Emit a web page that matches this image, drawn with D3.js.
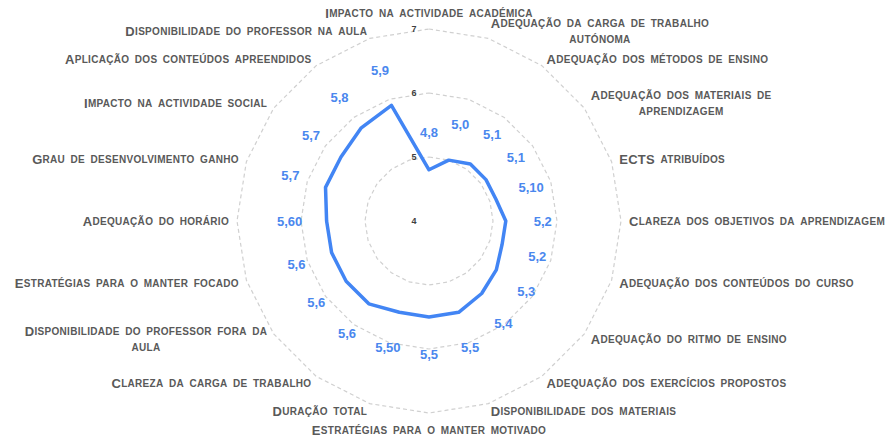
<!DOCTYPE html>
<html>
<head>
<meta charset="utf-8">
<script src="https://cdn.jsdelivr.net/npm/d3@7"></script>
<style>
  body { margin: 0; background: #fff; }
  svg { display: block; font-family: "Liberation Sans", Arial, sans-serif; }
</style>
</head>
<body>
<div id="chart"></div>
<script>
// axis categories, clockwise from the top
const categories = [
  "Impacto na actividade académica",
  "Adequação da carga de trabalho\nautónoma",
  "Adequação dos métodos de ensino",
  "Adequação dos materiais de\naprendizagem",
  "ECTS atribuídos",
  "Clareza dos objetivos da aprendizagem",
  "Adequação dos conteúdos do curso",
  "Adequação do ritmo de ensino",
  "Adequação dos exercícios propostos",
  "Disponibilidade dos materiais",
  "Estratégias para o manter motivado",
  "Duração total",
  "Clareza da carga de trabalho",
  "Disponibilidade do professor fora da\naula",
  "Estratégias para o manter focado",
  "Adequação do horário",
  "Grau de desenvolvimento ganho",
  "Impacto na actividade social",
  "Aplicação dos conteúdos apreendidos",
  "Disponibilidade do professor na aula"
];
const values = [4.8, 5.0, 5.1, 5.1, 5.1, 5.2, 5.2, 5.3, 5.4, 5.5,
                5.5, 5.5, 5.6, 5.6, 5.6, 5.6, 5.7, 5.7, 5.8, 5.9];
const valueLabels = ["4,8", "5,0", "5,1", "5,1", "5,10", "5,2", "5,2", "5,3", "5,4", "5,5",
                     "5,5", "5,50", "5,6", "5,6", "5,6", "5,60", "5,7", "5,7", "5,8", "5,9"];
const ticks = [4, 5, 6, 7];

const width = 888;
const height = 438;
const cx = 429, cy = 221;
const n = categories.length;

const r = d3.scaleLinear().domain([4, 7]).range([0, 192]);
const angle = d3.scaleLinear().domain([0, n]).range([0, 2 * Math.PI]);

const svg = d3.select("#chart").append("svg")
  .attr("width", width)
  .attr("height", height);

const g = svg.append("g").attr("transform", `translate(${cx},${cy})`);

// grid rings
ticks.filter(t => t > 4).forEach(t => {
  const ring = d3.lineRadial()
    .angle(i => angle(i))
    .radius(r(t))
    .curve(d3.curveLinearClosed);
  g.append("path")
    .attr("d", ring(d3.range(n)))
    .attr("fill", "none")
    .attr("stroke", "#d0d0d0")
    .attr("stroke-width", 1.2)
    .attr("stroke-dasharray", "4,3");
});

// tick labels
g.selectAll(".tick")
  .data(ticks)
  .enter()
  .append("text")
  .attr("class", "tick")
  .attr("x", -15)
  .attr("y", d => -r(d))
  .attr("text-anchor", "middle")
  .attr("dominant-baseline", "central")
  .attr("font-size", 9)
  .attr("font-weight", "bold")
  .attr("fill", "#404040")
  .text(d => d);

// data line
const line = d3.lineRadial()
  .angle((d, i) => angle(i))
  .radius(d => r(d))
  .curve(d3.curveLinearClosed);

g.append("path")
  .attr("d", line(values))
  .attr("fill", "none")
  .attr("stroke", "#4285f4")
  .attr("stroke-width", 3.5)
  .attr("stroke-linejoin", "round");

// value labels
const pos = (i, rad) => [rad * Math.sin(angle(i)), -rad * Math.cos(angle(i))];

g.selectAll(".val")
  .data(values)
  .enter()
  .append("text")
  .attr("class", "val")
  .attr("x", (d, i) => pos(i, r(d) + 37)[0])
  .attr("y", (d, i) => pos(i, r(d) + 37)[1])
  .attr("text-anchor", "middle")
  .attr("dominant-baseline", "central")
  .attr("font-size", 13)
  .attr("font-weight", "bold")
  .attr("fill", "#4a87ee")
  .text((d, i) => valueLabels[i]);

// small caps like Excel: lower case letters drawn as smaller capitals
function smallCaps(text, str) {
  const runs = [];
  for (const ch of str) {
    const low = ch !== ch.toUpperCase();
    if (runs.length && runs[runs.length - 1].low === low) runs[runs.length - 1].s += ch;
    else runs.push({ low: low, s: ch });
  }
  runs.forEach(run => {
    text.append("tspan")
      .attr("font-size", run.low ? 10 : 13)
      .text(run.s.toUpperCase());
  });
}

// category labels
const lineH = 16;
categories.forEach((cat, i) => {
  const a = angle(i);
  const s = Math.sin(a);
  const lines = cat.split("\n");
  let [x, y] = pos(i, 200);
  if (Math.abs(s) < 0.01) y = Math.cos(a) > 0 ? -208 : 209;

  const lab = g.append("g");
  const texts = lines.map((ln, j) => {
    const t = lab.append("text")
      .attr("x", 0)
      .attr("y", (j - (lines.length - 1) / 2) * lineH)
      .attr("text-anchor", "middle")
      .attr("dominant-baseline", "central")
      .attr("font-weight", "bold")
      .attr("letter-spacing", 0.3)
      .attr("word-spacing", 1.5)
      .attr("fill", "#595959");
    smallCaps(t, ln);
    return t;
  });
  const w = d3.max(texts, t => t.node().getComputedTextLength());
  let dx = 0;
  if (s > 0.01) dx = w / 2;
  else if (s < -0.01) dx = -w / 2;
  lab.attr("transform", `translate(${x + dx},${y})`);
});
</script>
</body>
</html>
